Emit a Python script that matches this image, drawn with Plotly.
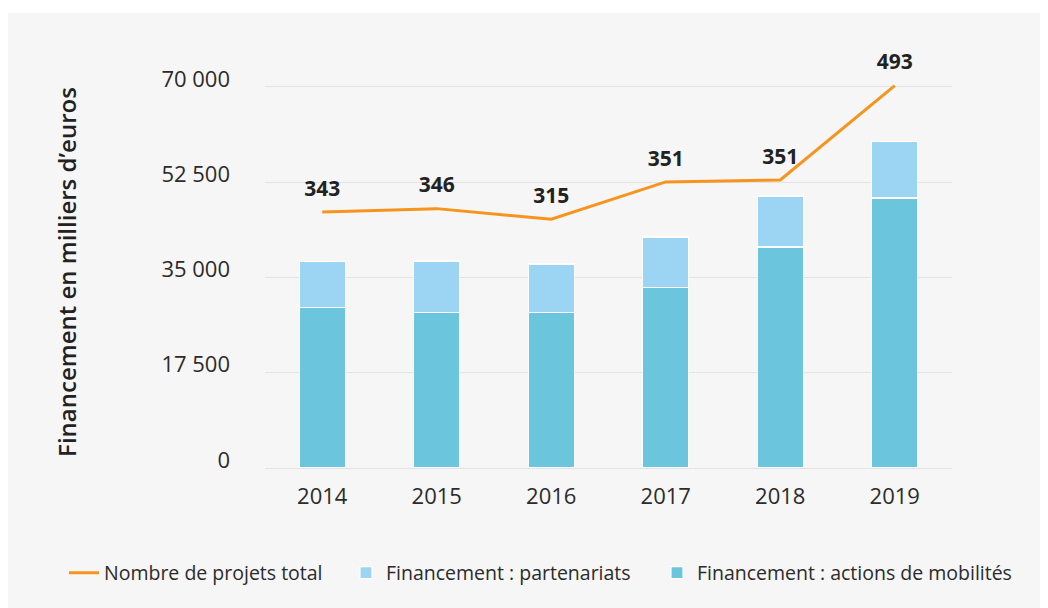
import plotly.graph_objects as go

annees = ["2014", "2015", "2016", "2017", "2018", "2019"]
financement_mobilites = [29450, 28600, 28600, 33130, 40600, 49610]
financement_partenariats = [8450, 9430, 8880, 9310, 9370, 10340]
projets_total = [343, 346, 315, 351, 351, 493]
# position of the project-count line as drawn on the financing axis
projets_niveau = [47030, 47640, 45690, 52550, 52910, 70240]

y_ticks = [0, 17500, 35000, 52500, 70000]
y_ticklabels = ["0", "17 500", "35 000", "52 500", "70 000"]

FONT = "Open Sans"
TXT = "#2b2b2b"

fig = go.Figure()
fig.add_trace(go.Bar(
    x=annees, y=financement_mobilites, name="Financement : actions de mobilités",
    marker=dict(color="#6bc5dd", line=dict(color="#ffffff", width=1.2)),
    width=0.4, legend="legend2",
))
fig.add_trace(go.Bar(
    x=annees, y=financement_partenariats, name="Financement : partenariats",
    marker=dict(color="#9cd4f4", line=dict(color="#ffffff", width=1.2)),
    width=0.4, legendrank=2,
))
fig.add_trace(go.Scatter(
    x=annees, y=projets_niveau, name="Nombre de projets total",
    mode="lines+markers+text",
    line=dict(color="#f7941d", width=3),
    marker=dict(size=16, color="rgba(0,0,0,0)"),
    text=[str(v) for v in projets_total],
    textposition="top center",
    textfont=dict(family=FONT, size=21, color="#222222", weight=700),
    cliponaxis=False, legendrank=1, legendwidth=237,
))

# the page adds an 8 px body margin, so the figure origin sits at (8, 8)
OFF = 8
W, H = 1040, 600
L, R, T, B = 265 - OFF, 96, 76 - OFF, 140
pw, ph = W - L - R, H - T - B

def px_x(p):
    return (p - OFF - L) / pw

def px_y(p):
    return (H - B - (p - OFF)) / ph

legend_style = dict(
    orientation="h", xanchor="left", y=px_y(573), yanchor="middle",
    font=dict(family=FONT, size=19.5, color=TXT),
    bgcolor="rgba(0,0,0,0)", traceorder="normal",
)

fig.update_layout(
    width=W, height=H,
    margin=dict(l=L, r=R, t=T, b=B, autoexpand=False),
    paper_bgcolor="#f6f6f6", plot_bgcolor="#f6f6f6",
    barmode="stack",
    font=dict(family=FONT, color=TXT),
    showlegend=True,
    legend=dict(x=px_x(64), **legend_style),
    legend2=dict(x=px_x(657), **legend_style),
    xaxis=dict(
        showgrid=False, showline=False, zeroline=False,
        tickfont=dict(family=FONT, size=22, color=TXT),
        ticklabelstandoff=13,
    ),
    yaxis=dict(
        range=[0, 72000],
        tickvals=y_ticks, ticktext=y_ticklabels,
        showgrid=True, gridcolor="#e3e3e3", gridwidth=1,
        zeroline=True, zerolinecolor="#e3e3e3", zerolinewidth=1,
        showline=False,
        tickfont=dict(family=FONT, size=22, color=TXT),
        ticklabelstandoff=34, ticklabelshift=-8,
        title=dict(text="Financement en milliers d’euros",
                   font=dict(family=FONT, size=24, color="#222222", weight=600),
                   standoff=77),
    ),
    shapes=[
        dict(type="rect", xref="paper", yref="paper", layer="below",
             x0=px_x(-40), x1=px_x(W + 60), y0=px_y(13), y1=px_y(-40),
             fillcolor="#ffffff", line=dict(width=0)),
    ],
)

fig.write_html("out.html")
